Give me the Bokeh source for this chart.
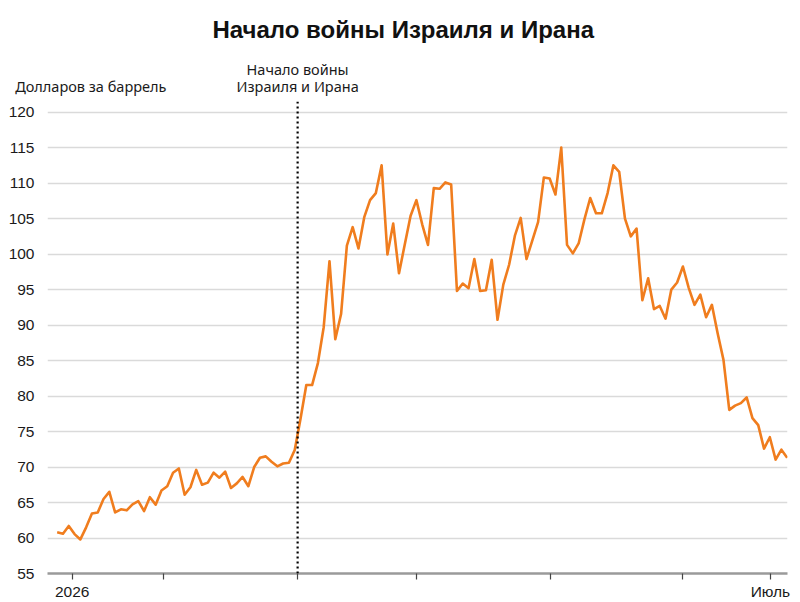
from bokeh.plotting import figure
from bokeh.models import Span, FixedTicker, LinearAxis, Title
from bokeh.embed import file_html
from bokeh.resources import INLINE

# Brent-like price, dollars per barrel (one value per trading day)
prices = [
    60.8, 60.6, 61.7, 60.55, 59.8, 61.5, 63.45, 63.6, 65.5, 66.5,
    63.6, 64.05, 63.9, 64.75, 65.2, 63.8, 65.75, 64.7, 66.7, 67.3,
    69.2, 69.8, 66.1, 67.15, 69.6, 67.5, 67.8, 69.2, 68.5, 69.35,
    67.05, 67.7, 68.6, 67.3, 70.0, 71.3, 71.5, 70.75, 70.1, 70.5,
    70.6, 72.4, 76.8, 81.55, 81.55, 84.65, 89.7, 99.0, 88.0, 91.55,
    101.2, 103.8, 100.8, 105.2, 107.6, 108.6, 112.5, 99.95, 104.3, 97.3,
    101.4, 105.4, 107.6, 104.2, 101.3, 109.3, 109.2, 110.1, 109.8, 94.8,
    95.85, 95.2, 99.3, 94.8, 94.9, 99.2, 90.75, 95.7, 98.5, 102.6,
    105.1, 99.3, 101.9, 104.5, 110.8, 110.65, 108.4, 115.0, 101.3, 100.1,
    101.5, 104.9, 107.9, 105.75, 105.75, 108.6, 112.5, 111.6, 105.0, 102.5,
    103.6, 93.5, 96.6, 92.25, 92.7, 90.9, 95.0, 96.0, 98.25, 95.25,
    92.85, 94.3, 91.1, 92.85, 88.8, 85.1, 78.05, 78.65, 79.0, 79.8,
    76.9, 75.9, 72.6, 74.2, 71.05, 72.45, 71.3,
]
days = list(range(len(prices)))

y_ticks = list(range(55, 121, 5))
x_tick_pos = [2.6, 18.4, 41.5, 62.0, 85.1, 107.9, 123.1]
x_tick_labels = ["2026", "", "", "", "", "", "Июль"]
war_start = 41.5

title_text = "Начало войны Израиля и Ирана"
unit_text = "Долларов за баррель"
unit_pos = 5.8
event_text = "Начало войны\nИзраиля и Ирана"

LINE = "#f07d1e"
TXT = "#1a1a1a"
TICK_FONT = "Liberation Sans"
NOTE_FONT = "Noto Sans"

p = figure(width=800, height=602, x_range=(-1.67, 126.05), y_range=(55, 121.5),
           output_backend="svg", toolbar_location=None,
           min_border_left=47, min_border_right=13, min_border_top=100,
           min_border_bottom=28)
p.outline_line_color = None
p.background_fill_color = "white"
p.border_fill_color = "white"
p.title.visible = False

p.line(days, prices, line_color=LINE, line_width=2.6, line_join="round")

p.add_layout(Span(location=war_start, dimension="height", line_color="black",
                  line_width=2.2, line_dash="2 3"))

# y axis
p.yaxis.ticker = FixedTicker(ticks=y_ticks)
p.yaxis.axis_line_color = None
p.yaxis.major_tick_line_color = None
p.yaxis.minor_tick_line_color = None
p.yaxis.major_label_text_font = TICK_FONT
p.yaxis.major_label_text_font_size = "15.5px"
p.yaxis.major_label_text_color = TXT
p.yaxis.major_label_standoff = 7

# x axis
p.xaxis.ticker = FixedTicker(ticks=x_tick_pos)
p.xaxis.major_label_overrides = {t: l for t, l in zip(x_tick_pos, x_tick_labels)}
p.xaxis.axis_line_color = "#9a9a9a"
p.xaxis.axis_line_width = 2.5
p.xaxis.major_tick_line_color = "#444444"
p.xaxis.major_tick_line_width = 1.2
p.xaxis.major_tick_out = 6
p.xaxis.major_tick_in = 0
p.xaxis.minor_tick_line_color = None
p.xaxis.major_label_text_font = TICK_FONT
p.xaxis.major_label_text_font_size = "15.5px"
p.xaxis.major_label_text_color = TXT
p.xaxis.major_label_standoff = 3

p.xgrid.visible = False
p.ygrid.grid_line_color = "#dadada"
p.ygrid.grid_line_width = 1.5

# annotation row above the frame: unit note and event note
note_axis = LinearAxis(ticker=FixedTicker(ticks=[unit_pos, war_start]),
                       major_label_overrides={unit_pos: unit_text, war_start: event_text})
note_axis.axis_line_color = None
note_axis.major_tick_line_color = None
note_axis.minor_tick_line_color = None
note_axis.major_label_text_font = NOTE_FONT
note_axis.major_label_text_font_size = "14.5px"
note_axis.major_label_text_line_height = 0.85
note_axis.major_label_text_color = TXT
note_axis.major_label_standoff = 0
p.add_layout(note_axis, "above")

p.add_layout(Title(text=title_text, align="left", offset=165, standoff=26,
                   text_font=TICK_FONT, text_font_style="bold",
                   text_font_size="24px", text_color="#111111"), "above")

open("out.html", "w").write(file_html(p, INLINE))
